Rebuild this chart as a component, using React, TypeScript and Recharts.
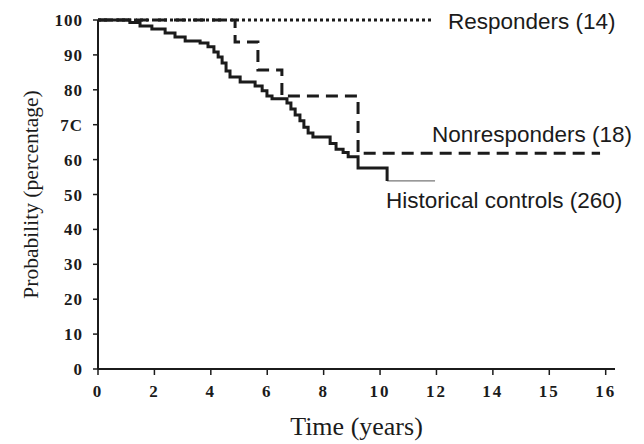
import { Line, LineChart, ReferenceDot, XAxis, YAxis } from 'recharts';

// tick positions are evenly spaced, the printed labels are not (…14, 15, 16)
const xTicks = [0, 2, 4, 6, 8, 10, 12, 14, 16, 18];
const xTickLabels = ['0', '2', '4', '6', '8', '10', '12', '14', '15', '16'];
const yTicks = [0, 10, 20, 30, 40, 50, 60, 70, 80, 90, 100];
const yTickLabels = ['0', '10', '20', '30', '40', '50', '60', '7C', '80', '90', '100'];

const responders = [
    { t: 0, p: 100 },
    { t: 11.88, p: 100 },
];

const nonresponders = [
    { t: 0, p: 100 },
    { t: 4.86, p: 93.7 },
    { t: 5.67, p: 85.7 },
    { t: 6.52, p: 78.2 },
    { t: 9.22, p: 61.8 },
    { t: 17.8, p: 61.8 },
];

const historical = [
    { t: 0, p: 100 },
    { t: 1.13, p: 99.3 },
    { t: 1.49, p: 98.3 },
    { t: 1.91, p: 97.4 },
    { t: 2.38, p: 96.3 },
    { t: 2.73, p: 95.1 },
    { t: 3.09, p: 94.0 },
    { t: 3.62, p: 93.4 },
    { t: 3.9, p: 92.3 },
    { t: 4.11, p: 90.8 },
    { t: 4.26, p: 89.4 },
    { t: 4.4, p: 87.7 },
    { t: 4.54, p: 85.4 },
    { t: 4.68, p: 83.7 },
    { t: 5.04, p: 82.2 },
    { t: 5.57, p: 81.1 },
    { t: 5.82, p: 79.7 },
    { t: 5.99, p: 78.2 },
    { t: 6.17, p: 77.4 },
    { t: 6.7, p: 76.2 },
    { t: 6.84, p: 74.5 },
    { t: 6.99, p: 72.8 },
    { t: 7.16, p: 71.1 },
    { t: 7.3, p: 69.3 },
    { t: 7.45, p: 67.6 },
    { t: 7.62, p: 66.5 },
    { t: 8.23, p: 64.6 },
    { t: 8.44, p: 63.0 },
    { t: 8.69, p: 62.0 },
    { t: 8.87, p: 60.8 },
    { t: 9.22, p: 57.6 },
    { t: 10.25, p: 53.9 },
];

// last stretch is drawn with a thin grey line in the original
const historicalTail = [
    { t: 10.25, p: 53.9 },
    { t: 11.95, p: 53.9 },
];

const annotations = [
    { t: 12.41, p: 99.6, text: 'Responders (14)' },
    { t: 11.84, p: 67.3, text: 'Nonresponders (18)' },
    { t: 10.21, p: 48.4, text: 'Historical controls (260)' },
];

const ink = '#1b1b1b';
const serif = '"Liberation Serif", "Times New Roman", serif';
const sans = '"Liberation Sans", Arial, sans-serif';

export default function App() {
    return (
        <div style={{ position: 'absolute', left: 0, top: 0, background: '#fff' }}>
            <LineChart width={644} height={444} margin={{ top: 20, right: 29, left: 0, bottom: 5 }}>
                <XAxis
                    dataKey='t'
                    type='number'
                    domain={[0, 18.33]}
                    ticks={xTicks}
                    allowDataOverflow
                    tickFormatter={(v: number) => xTickLabels[xTicks.indexOf(v)] ?? ''}
                    height={70}
                    tickSize={6}
                    tickMargin={10}
                    axisLine={{ stroke: ink, strokeWidth: 2 }}
                    tickLine={{ stroke: ink, strokeWidth: 1.5 }}
                    tick={{ fontFamily: serif, fontWeight: 'bold', fontSize: 17, fill: ink, letterSpacing: 2 }}
                    label={{ value: 'Time (years)', position: 'insideBottom', offset: 4, fontFamily: serif, fontSize: 26, fill: ink }}
                />
                <YAxis
                    type='number'
                    domain={[0, 100]}
                    ticks={yTicks}
                    tickFormatter={(v: number) => yTickLabels[yTicks.indexOf(v)] ?? ''}
                    width={98}
                    tickSize={5}
                    tickMargin={10}
                    axisLine={{ stroke: ink, strokeWidth: 2 }}
                    tickLine={{ stroke: ink, strokeWidth: 1.5 }}
                    tick={{ fontFamily: serif, fontWeight: 'bold', fontSize: 17, fill: ink, letterSpacing: 1 }}
                    label={{
                        value: 'Probability (percentage)',
                        angle: -90,
                        position: 'insideLeft',
                        offset: 30,
                        fontFamily: serif,
                        fontSize: 21.5,
                        fill: ink,
                        style: { textAnchor: 'middle' },
                    }}
                />
                <Line data={historicalTail} dataKey='p' type='stepAfter' stroke='#777' strokeWidth={1.3} dot={false} isAnimationActive={false} />
                <Line data={responders} dataKey='p' type='linear' stroke={ink} strokeWidth={3} strokeDasharray='3 3' dot={false} isAnimationActive={false} />
                <Line data={nonresponders} dataKey='p' type='stepAfter' stroke={ink} strokeWidth={3} strokeDasharray='12 7' dot={false} isAnimationActive={false} />
                <Line data={historical} dataKey='p' type='stepAfter' stroke={ink} strokeWidth={3} dot={false} isAnimationActive={false} />
                {annotations.map((a) => (
                    <ReferenceDot
                        key={a.text}
                        x={a.t}
                        y={a.p}
                        r={0}
                        stroke='none'
                        fill='none'
                        ifOverflow='visible'
                        label={{ value: a.text, position: 'right', offset: 0, fontFamily: sans, fontSize: 22.5, fill: ink }}
                    />
                ))}
            </LineChart>
        </div>
    );
}
